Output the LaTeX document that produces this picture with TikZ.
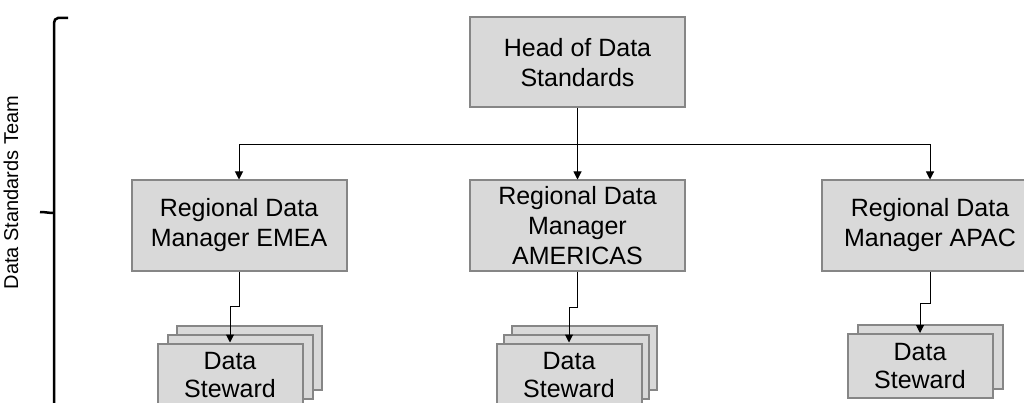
\documentclass[tikz,border=0pt]{standalone}
\usepackage{fontspec}
\setmainfont{Liberation Sans}
\usetikzlibrary{arrows.meta}
\definecolor{boxfill}{HTML}{D9D9D9}
\definecolor{boxline}{HTML}{868686}
\begin{document}
\begin{tikzpicture}[x=1pt,y=-1pt,
  role/.style={draw=boxline, fill=boxfill, line width=2pt, minimum width=215pt,
    minimum height=90pt, align=center, inner sep=0pt, font=\fontsize{25}{30}\selectfont},
  steward/.style={draw=boxline, fill=boxfill, line width=2pt, minimum width=145pt,
    minimum height=64pt, align=center, inner sep=0pt, font=\fontsize{25}{28}\selectfont},
  link/.style={draw=black, line width=1pt, -{Triangle[length=8pt,width=8pt]}},
  bracket/.style={draw=black, line width=2.5pt}]
\useasboundingbox (0,0) rectangle (1024,403);

% management boxes
\node[role] (head) at (577.5,62.5) {Head of Data\\Standards};
\node[role] (emea) at (239,225.5) {Regional Data\\Manager EMEA};
\node[role] (amer) at (577.5,225.5) {Regional Data\\Manager\\AMERICAS};
\node[role, minimum width=216pt] (apac) at (930,225.5) {Regional Data\\Manager APAC};

% data steward stacks
\node[steward] (emeaC) at (249,357.5) {};
\node[steward] (emeaB) at (240,366.5) {};
\node[steward] (emeaA) at (230,375.5) {Data\\Steward};
\node[steward] (amerC) at (584.5,357.5) {};
\node[steward] (amerB) at (576,366.5) {};
\node[steward] (amerA) at (569,375.5) {Data\\Steward};
\node[steward] (apacB) at (930,357) {};
\node[steward] (apacA) at (920,366) {Data\\Steward};

% reporting lines
\coordinate (split) at (577.5,145);
\draw[link] (head) -- (amer);
\draw[link] (split) -| (emea.north);
\draw[link] (split) -| (apac.north);
\draw[link] (emea.south) -- ++(0,35) -| (emeaA.north);
\draw[link] (amer.south) -- ++(0,36) -| (amerA.north);
\draw[link] (apac.south) -- ++(0,32) -| (apacA.north);

% team bracket
\draw[bracket] (68,18) -- (58,18) to[out=180,in=90] (54,23) -- (54,410);
\draw[bracket] (40,212) to[out=0,in=180] (54,213);
\node[rotate=90, font=\fontsize{20}{24}\selectfont] (team) at (11,192.5) {Data Standards Team};
\end{tikzpicture}
\end{document}
